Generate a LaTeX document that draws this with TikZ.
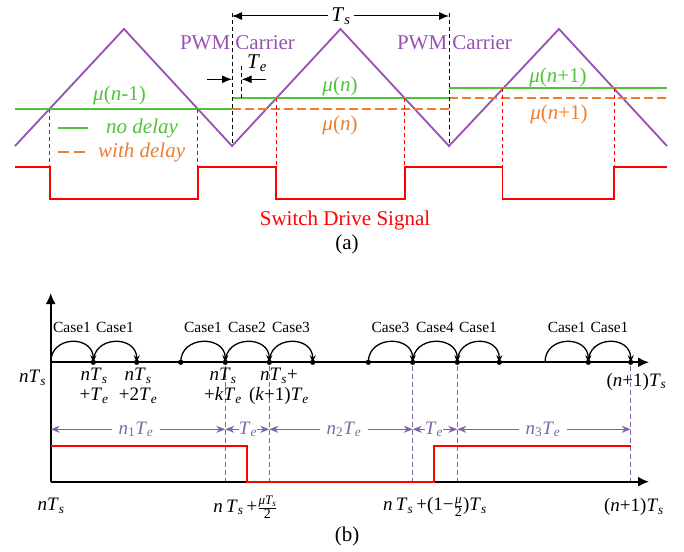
\documentclass[tikz,border=0pt]{standalone}
\usepackage{fontspec}
\setmainfont{Liberation Serif}
\usetikzlibrary{arrows.meta}
\definecolor{carr}{RGB}{150,80,180}
\definecolor{grn}{RGB}{80,195,60}
\definecolor{org}{RGB}{237,125,49}
\definecolor{dimc}{RGB}{128,100,170}
\definecolor{rd}{RGB}{255,0,0}
\newcommand{\sbx}[1]{\textsubscript{\itshape #1}}
\newcommand{\iv}[1]{\textit{#1}}
\newcommand{\myfr}[2]{\ensuremath{\frac{\hbox{\fontsize{13}{13}\selectfont #1}}{\hbox{\fontsize{14}{14}\selectfont #2}}}}
\begin{document}
\begin{tikzpicture}[x=1pt,y=-1pt,
  fa/.style={inner sep=0pt,font=\fontsize{21}{24}\selectfont},
  fb/.style={inner sep=0pt,font=\fontsize{19}{20}\selectfont,align=center},
  fc/.style={inner sep=0pt,font=\fontsize{15.5}{17}\selectfont},
  carrier/.style={carr,line width=1.8pt,line join=miter},
  gline/.style={grn,line width=1.8pt},
  oline/.style={org,line width=1.8pt,dash pattern=on 9pt off 4pt},
  bdash/.style={black,line width=0.9pt,dash pattern=on 4pt off 3pt},
  rdash/.style={rd,line width=0.9pt,dash pattern=on 4pt off 3pt},
  pdash/.style={dimc,line width=0.9pt,dash pattern=on 5pt off 3pt},
  sig/.style={rd,line width=1.8pt,line join=miter},
  blarrow/.style={black,line width=1pt,-{Latex[length=10pt,width=8pt]}},
  axis/.style={black,line width=1.8pt,-{Latex[length=11pt,width=10pt]}},
  arcst/.style={black,line width=1.3pt,-{Stealth[length=7pt,width=6pt]}},
  dimarrow/.style={dimc,line width=1pt,-{Stealth[length=9pt,width=7pt]}}
]
\useasboundingbox (0,0) rectangle (684,551);

% ---------------- (a) ----------------
\draw[carrier] (15,146) -- (124,29) -- (232,146) -- (340.5,29) -- (449,146) -- (559,29) -- (667,146);

\draw[gline] (15,108.7) -- (232,108.7);
\draw[gline] (232,98.3) -- (449,98.3);
\draw[gline] (449,88.3) -- (667,88.3);
\draw[oline] (232,108.7) -- (449,108.7);
\draw[oline] (449,98.3) -- (667,98.3);

\draw[bdash] (232,13) -- (232,146);
\draw[bdash] (449,13) -- (449,146);
\draw[bdash] (241.7,66) -- (241.7,98.3);

\node[fa] (Ts) at (341,16) {\iv{T}\sbx{s}};
\draw[blarrow] (Ts.west) ++(-3,0) -- (232,16);
\draw[blarrow] (Ts.east) ++(3,0) -- (449,16);

\node[fa] (Te) at (257,63) {\iv{T}\sbx{e}};
\coordinate (teL) at (207,79.3);
\coordinate (teR) at (266,79.3);
\draw[blarrow] (teL) -- (232,79.3);
\draw[blarrow] (teR) -- (241.7,79.3);

\node[fa,text=carr] (pc1) at (237.5,43) {PWM Carrier};
\node[fa,text=carr] (pc2) at (454.5,43) {PWM Carrier};

\node[fa,text=grn] (m1) at (119.5,95) {\textit{μ}(\textit{n}-1)};
\node[fa,text=grn] (m2) at (340,86) {\textit{μ}(\textit{n})};
\node[fa,text=org] (m3) at (340,125) {\textit{μ}(\textit{n})};
\node[fa,text=grn] (m4) at (558,77) {\textit{μ}(\textit{n}+1)};
\node[fa,text=org] (m5) at (559,114) {\textit{μ}(\textit{n}+1)};

\draw[gline] (58,128) -- (88,128);
\node[fa,text=grn,anchor=west] (nd) at (106,128) {\textit{no delay}};
\draw[oline,dash pattern=on 11pt off 5pt] (58,152) -- (90,152);
\node[fa,text=org,anchor=west] (wd) at (98,152) {\textit{with delay}};

\foreach \x/\y in {49.6/108.7,197.9/108.7,276.2/98.3,404.8/98.3,502.5/88.3,614/88.3}
  \draw[rdash] (\x,\y) -- (\x,167);

\draw[sig] (15,167) -- (49.6,167) -- (49.6,199) -- (197.9,199) -- (197.9,167) -- (276.2,167) -- (276.2,199) -- (404.8,199) -- (404.8,167) -- (502.5,167) -- (502.5,199) -- (614,199) -- (614,167) -- (667,167);

\node[fa,text=rd] (sds) at (345,220) {Switch Drive Signal};
\node[fa] (la) at (347,244) {(a)};

% ---------------- (b) ----------------
\foreach \x in {225.3,269.3,412.7,457.3,630.7}
  \draw[pdash] (\x,366) -- (\x,481.7);

\draw[axis] (50.7,481.7) -- (50.7,293);
\draw[axis] (50.7,362.3) -- (649,362.3);
\draw[axis] (50.7,481.7) -- (649,481.7);

\foreach \a/\b in {50.7/93.3,93.3/136.7,180.7/225.3,225.3/269.3,269.3/312.7,368.3/412.7,412.7/457.3,457.3/499.3,545/588.3,588.3/630.7}
  \draw[arcst] (\a,362.3) .. controls (\a,335) and (\b,335) .. (\b,362.3);

\foreach \x in {93.3,136.7,180.7,225.3,269.3,312.7,368.3,412.7,457.3,499.3,588.3,630.7}
  \fill (\x,362.3) circle (2.6);

\foreach \x/\t [count=\i] in {72/Case1,115/Case1,203/Case1,247/Case2,291/Case3,390.5/Case3,435/Case4,478/Case1,566.7/Case1,609.5/Case1}
  \node[fc] (case\i) at (\x,327) {\t};

\node[fb] (t0) at (32.5,378) {\iv{n}\iv{T}\sbx{s}};
\node[fb,anchor=north] (t1) at (94,368) {\iv{n}\iv{T}\sbx{s}\\+\iv{T}\sbx{e}};
\node[fb,anchor=north] (t2) at (138,368) {\iv{n}\iv{T}\sbx{s}\\+2\iv{T}\sbx{e}};
\node[fb,anchor=north] (t3) at (223,368) {\iv{n}\iv{T}\sbx{s}\\+\iv{k}\iv{T}\sbx{e}};
\node[fb,anchor=north] (t4) at (279,368) {\iv{n}\iv{T}\sbx{s}+\\(\iv{k}+1)\iv{T}\sbx{e}};
\node[fb] (t5) at (636.5,381.7) {(\iv{n}+1)\iv{T}\sbx{s}};

\node[fb,text=dimc] (d1) at (136,429.3) {\iv{n}\textsubscript{1}\iv{T}\sbx{e}};
\node[fb,text=dimc] (d2) at (248,429.3) {\iv{T}\sbx{e}};
\node[fb,text=dimc] (d3) at (344,429.3) {\iv{n}\textsubscript{2}\iv{T}\sbx{e}};
\node[fb,text=dimc] (d4) at (434,429.3) {\iv{T}\sbx{e}};
\node[fb,text=dimc] (d5) at (543,429.3) {\iv{n}\textsubscript{3}\iv{T}\sbx{e}};
\draw[dimarrow] (d1.west) ++(-6,0) -- (50.7,429.3);
\draw[dimarrow] (d1.east) ++(6,0) -- (225.3,429.3);
\draw[dimarrow] (d2.west) -- (225.3,429.3);
\draw[dimarrow] (d2.east) -- (269.3,429.3);
\draw[dimarrow] (d3.west) ++(-6,0) -- (269.3,429.3);
\draw[dimarrow] (d3.east) ++(6,0) -- (412.7,429.3);
\draw[dimarrow] (d4.west) -- (412.7,429.3);
\draw[dimarrow] (d4.east) -- (457.3,429.3);
\draw[dimarrow] (d5.west) ++(-6,0) -- (457.3,429.3);
\draw[dimarrow] (d5.east) ++(6,0) -- (630.7,429.3);

\draw[sig] (50.7,445.7) -- (246.7,445.7) -- (246.7,481.7) -- (434,481.7) -- (434,445.7) -- (630.7,445.7);

\node[fb] (b0) at (51,506) {\iv{n}\iv{T}\sbx{s}};
\node[fb] (b1) at (245.5,507) {\iv{n}\,\iv{T}\sbx{s}\,+\myfr{\itshape μT\sbx{s}}{2}};
\node[fb] (b2) at (435,507) {\iv{n}\,\iv{T}\sbx{s}\,+(1−\myfr{\itshape μ}{2})\iv{T}\sbx{s}};
\node[fb] (b3) at (634,507) {(\iv{n}+1)\iv{T}\sbx{s}};
\node[fa] (lb) at (347,536) {(b)};
\end{tikzpicture}
\end{document}
